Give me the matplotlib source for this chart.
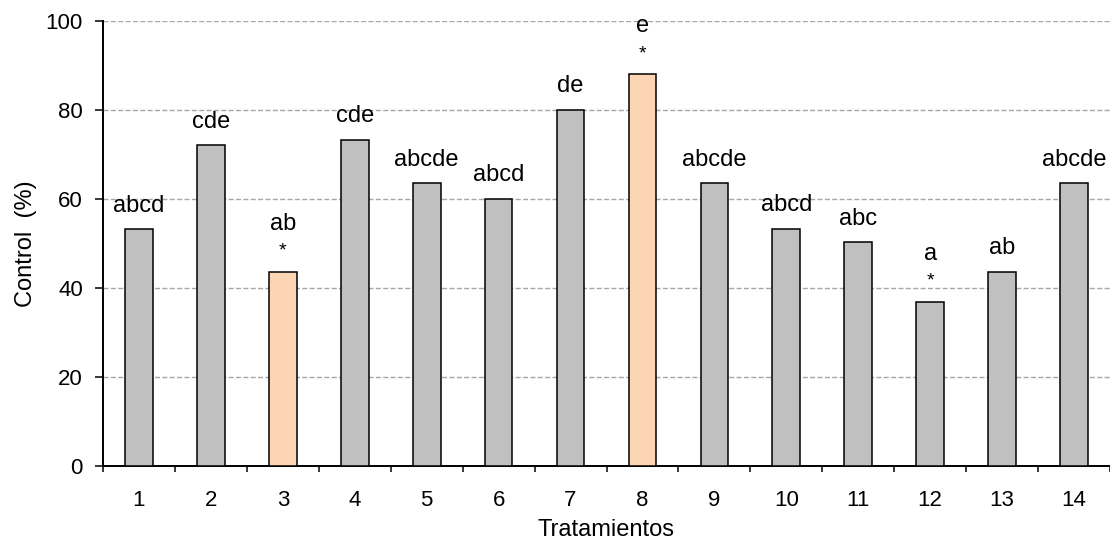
import matplotlib.pyplot as plt
import numpy as np

plt.rcParams['font.family'] = ['Liberation Sans', 'DejaVu Sans']

tratamientos = [str(i) for i in range(1, 15)]
control = [53.2, 72.0, 43.6, 73.3, 63.5, 60.0, 80.0, 88.0, 63.5, 53.3, 50.2, 36.9, 43.6, 63.5]
letras = ["abcd", "cde", "ab", "cde", "abcde", "abcd", "de", "e", "abcde", "abcd", "abc", "a", "ab", "abcde"]
marcados = [3, 8, 12]            # tratamientos with "*"
resaltados = [3, 8]              # peach coloured bars

x = np.arange(1, len(control) + 1)
colores = ["#FCD5B4" if t in resaltados else "#C0C0C0" for t in x]

fig = plt.figure(figsize=(11.1, 5.4), dpi=100)
ax = fig.add_axes([103 / 1110, 1 - 466 / 540, 1 - 103 / 1110, (466 - 20.7) / 540])

ax.bar(x, control, width=0.385, color=colores, edgecolor="black", linewidth=1.1, zorder=3)

for xi, v, lab in zip(x, control, letras):
    if xi in marcados:
        ax.annotate("*", (xi, v), xytext=(0, 11.5), textcoords="offset points",
                    ha="center", va="baseline", fontsize=14)
        ax.annotate(lab, (xi, v), xytext=(0, 30), textcoords="offset points",
                    ha="center", va="baseline", fontsize=17)
    else:
        ax.annotate(lab, (xi, v), xytext=(0, 12.5), textcoords="offset points",
                    ha="center", va="baseline", fontsize=17)

ax.set_xlim(0.5, len(control) + 0.5)
ax.set_ylim(0, 100)
ax.set_yticks(range(0, 101, 20))
ax.set_xticks(x, tratamientos)
ax.set_xticks(np.arange(0.5, len(control) + 1, 1), minor=True)

ax.tick_params(axis="x", which="major", length=0, pad=17, labelsize=16)
ax.tick_params(axis="x", which="minor", length=4.5, width=1.1, direction="out")
ax.tick_params(axis="y", length=5.5, width=1.1, direction="out", pad=9, labelsize=16)

ax.yaxis.grid(True, color="#A6A6A6", linestyle=(0, (3.6, 1.7)), linewidth=1, zorder=0)
ax.set_axisbelow(True)

for s in ["top", "right"]:
    ax.spines[s].set_visible(False)
for s in ["left", "bottom"]:
    ax.spines[s].set_linewidth(1.4)

ax.set_ylabel("Control  (%)", fontsize=17, labelpad=6)
ax.set_xlabel("Tratamientos", fontsize=17, labelpad=6)

fig.savefig("out.png", dpi=100)
